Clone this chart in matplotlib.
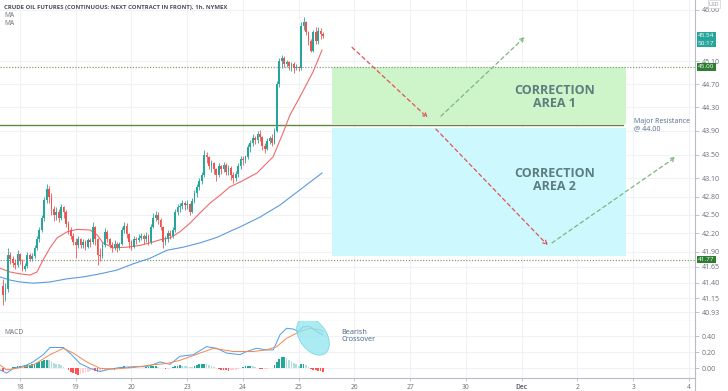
import matplotlib
matplotlib.use("Agg")
import matplotlib.pyplot as plt
import matplotlib.transforms as mtransforms
from matplotlib.patches import Ellipse, Rectangle
from matplotlib.ticker import FixedLocator, NullLocator, FixedFormatter, NullFormatter
import numpy as np

plt.rcParams['font.family'] = ['Open Sans', 'DejaVu Sans']

# ---------------- data ----------------
title = "CRUDE OIL FUTURES (CONTINUOUS: NEXT CONTRACT IN FRONT), 1h, NYMEX"
first_open = 41.35
closes = [41.20, 41.30, 41.85, 41.78, 41.72, 41.68, 41.86, 41.75, 41.62, 41.66,
          41.85, 41.78, 41.82, 41.95, 42.10, 42.25, 42.45, 42.75, 42.92, 42.80,
          42.60, 42.50, 42.55, 42.45, 42.62, 42.55, 42.35, 42.25, 42.15, 42.05,
          42.00, 42.10, 42.00, 42.05, 41.98, 42.08, 42.05, 42.30, 42.10, 41.85,
          41.82, 42.00, 42.22, 42.10, 42.00, 41.95, 42.02, 41.96, 42.02, 42.25,
          42.32, 42.18, 42.05, 41.98, 42.10, 42.08, 42.12, 42.15, 42.10, 42.15,
          42.05, 42.30, 42.45, 42.50, 42.42, 42.30, 42.05, 42.10, 42.20, 42.15,
          42.25, 42.55, 42.62, 42.65, 42.70, 42.66, 42.68, 42.55, 42.72, 42.85,
          42.95, 43.05, 43.15, 43.50, 43.45, 43.30, 43.35, 43.25, 43.15, 43.30,
          43.25, 43.32, 43.20, 43.28, 43.15, 43.10, 43.18, 43.30, 43.42, 43.40,
          43.45, 43.62, 43.70, 43.78, 43.75, 43.85, 43.80, 43.65, 43.60, 43.72,
          43.78, 43.70, 43.90, 44.70, 45.10, 45.15, 45.05, 45.08, 45.02, 45.05,
          44.98, 45.00, 44.98, 45.72, 45.78, 45.60, 45.45, 45.28, 45.60, 45.45,
          45.62, 45.58, 45.54]
highs = [41.45, 41.40, 41.95, 41.90, 41.82, 41.78, 41.92, 41.88, 41.78, 41.72,
         41.90, 41.87, 41.88, 42.00, 42.15, 42.30, 42.50, 42.80, 43.00, 42.98,
         42.85, 42.65, 42.62, 42.60, 42.68, 42.65, 42.58, 42.40, 42.30, 42.20,
         42.12, 42.15, 42.12, 42.10, 42.08, 42.12, 42.12, 42.38, 42.32, 42.12,
         41.95, 42.05, 42.28, 42.25, 42.12, 42.05, 42.08, 42.05, 42.06, 42.30,
         42.38, 42.36, 42.20, 42.08, 42.15, 42.14, 42.18, 42.20, 42.18, 42.22,
         42.18, 42.35, 42.52, 42.56, 42.55, 42.45, 42.32, 42.15, 42.25, 42.25,
         42.30, 42.60, 42.68, 42.70, 42.75, 42.72, 42.74, 42.70, 42.78, 42.90,
         43.00, 43.10, 43.20, 43.58, 43.55, 43.48, 43.40, 43.38, 43.28, 43.35,
         43.32, 43.38, 43.35, 43.33, 43.30, 43.20, 43.22, 43.35, 43.48, 43.48,
         43.50, 43.68, 43.75, 43.85, 43.82, 43.90, 43.92, 43.82, 43.70, 43.78,
         43.82, 43.85, 43.95, 44.75, 45.15, 45.20, 45.18, 45.12, 45.10, 45.08,
         45.08, 45.05, 45.02, 45.78, 45.88, 45.80, 45.62, 45.48, 45.65, 45.70,
         45.70, 45.68, 45.60]
lows = [41.05, 41.10, 41.25, 41.70, 41.65, 41.62, 41.65, 41.70, 41.58, 41.58,
        41.63, 41.74, 41.75, 41.80, 41.92, 42.05, 42.22, 42.40, 42.70, 42.70,
        42.50, 42.40, 42.42, 42.38, 42.42, 42.45, 42.30, 42.18, 42.10, 42.00,
        41.80, 41.95, 41.95, 41.96, 41.92, 41.95, 41.98, 42.02, 42.00, 41.68,
        41.75, 41.80, 41.98, 42.05, 41.95, 41.90, 41.92, 41.90, 41.92, 42.00,
        42.20, 42.12, 41.95, 41.92, 41.95, 42.02, 42.05, 42.08, 42.02, 42.05,
        42.00, 42.02, 42.28, 42.40, 42.35, 42.25, 41.95, 42.00, 42.05, 42.10,
        42.12, 42.22, 42.50, 42.55, 42.60, 42.58, 42.60, 42.50, 42.52, 42.70,
        42.80, 42.90, 43.00, 43.12, 43.35, 43.25, 43.20, 43.18, 43.05, 43.12,
        43.18, 43.20, 43.15, 43.15, 43.08, 43.02, 43.05, 43.12, 43.25, 43.32,
        43.35, 43.42, 43.55, 43.65, 43.68, 43.70, 43.72, 43.58, 43.52, 43.58,
        43.68, 43.65, 43.68, 43.88, 44.65, 44.98, 45.00, 45.00, 44.95, 44.92,
        44.90, 44.95, 44.92, 44.95, 45.65, 45.55, 45.38, 45.25, 45.25, 45.40,
        45.40, 45.48, 45.50]

# moving averages, read at sample bars
ma_fast_x = [-1.2, 2.9, 7.0, 11.1, 14.0, 16.5, 19.4, 22.3, 26.4, 30.5, 35.9, 38.8,
             41.3, 45.4, 51.2, 56.5, 60.6, 64.8, 68.9, 73.0, 77.1, 81.3, 85.4,
             89.5, 93.6, 97.8, 104.8, 111.4, 115.5, 118.4, 122.5, 127.9, 131.6]
ma_fast_y = [41.63, 41.57, 41.54, 41.52, 41.57, 41.76, 41.96, 42.12, 42.22, 42.26,
             42.25, 42.17, 42.04, 41.96, 41.97, 42.00, 42.04, 42.09, 42.12, 42.22,
             42.36, 42.53, 42.69, 42.82, 42.96, 43.04, 43.19, 43.46, 43.86, 44.17,
             44.48, 44.91, 45.29]
ma_slow_x = [-1.2, 2.9, 7.0, 12.4, 19.4, 26.4, 33.0, 40.0, 47.0, 53.6, 60.6, 67.6,
             74.3, 81.3, 88.3, 94.9, 97.8, 106.0, 114.3, 122.5, 131.6]
ma_slow_y = [41.49, 41.44, 41.41, 41.39, 41.41, 41.46, 41.49, 41.54, 41.60, 41.70,
             41.79, 41.92, 41.97, 42.04, 42.13, 42.25, 42.30, 42.46, 42.66, 42.91,
             43.19]

# MACD panel
macd_x = [-1.2, 1.5, 4.3, 9.8, 12.4, 16.6, 19.4, 24.9, 28.3, 31.8, 35.9, 40.0,
          44.1, 48.3, 53.8, 59.3, 64.8, 68.9, 73.0, 78.5, 84.0, 88.2, 92.3, 97.8,
          100.5, 104.6, 108.7, 111.5, 114.3, 117.0, 119.8, 121.8, 123.9, 126.7,
          129.4, 132.0]
macd_y = [-0.02, -0.06, 0.00, 0.04, 0.08, 0.17, 0.26, 0.26, 0.17, 0.06, 0.00, -0.04,
          -0.01, 0.01, 0.02, 0.02, 0.08, 0.05, 0.15, 0.17, 0.27, 0.25, 0.19, 0.17,
          0.21, 0.25, 0.23, 0.23, 0.42, 0.50, 0.49, 0.46, 0.52, 0.52, 0.46, 0.42]
signal_x = [-1.2, 1.5, 5.6, 12.4, 19.4, 24.9, 29.0, 34.5, 40.0, 45.5, 53.8, 60.6,
            67.5, 73.0, 81.3, 86.8, 95.0, 103.3, 108.7, 112.9, 117.0, 122.5, 126.7,
            130.8, 132.0]
signal_y = [0.04, -0.02, 0.00, 0.04, 0.17, 0.25, 0.19, 0.08, 0.00, -0.01, 0.01, 0.04,
            0.06, 0.10, 0.19, 0.25, 0.21, 0.21, 0.23, 0.27, 0.375, 0.46, 0.50, 0.48,
            0.46]
hist = [-0.03, -0.02, -0.01, 0.01, 0.02, 0.02, 0.03, 0.03, 0.02, 0.03,
        0.04, 0.04, 0.05, 0.06, 0.07, 0.08, 0.09, 0.10, 0.11, 0.10,
        0.09, 0.07, 0.06, 0.05, 0.04, 0.02, 0.01, -0.02, -0.04, -0.06,
        -0.07, -0.08, -0.07, -0.06, -0.05, -0.04, -0.03, -0.02, -0.03, -0.04,
        -0.035, -0.03, -0.02, -0.015, -0.01, -0.01, -0.015, -0.01, 0.01, 0.02,
        0.03, 0.02, 0.02, 0.015, 0.015, 0.01, 0.01, 0.01, 0.01, 0.015,
        0.02, 0.025, 0.03, 0.03, 0.02, 0.01, 0.005, -0.01, -0.005, 0.01,
        0.02, 0.03, 0.035, 0.04, 0.035, 0.03, 0.025, 0.02, 0.015, 0.03,
        0.04, 0.05, 0.055, 0.06, 0.05, 0.04, 0.03, 0.02, 0.01, -0.01,
        -0.015, -0.02, -0.025, -0.03, -0.025, -0.02, -0.015, -0.01, 0.01, 0.02,
        0.025, 0.03, 0.035, 0.03, 0.02, 0.01, -0.005, -0.01, -0.005, -0.005,
        0.005, 0.01, 0.04, 0.08, 0.12, 0.14, 0.145, 0.13, 0.11, 0.09,
        0.07, 0.05, 0.03, 0.05, 0.06, 0.04, 0.02, -0.01, -0.02, -0.025,
        -0.03, -0.035, -0.04]

price_ticks = [46.00, 45.10, 44.70, 44.30, 43.90, 43.50, 43.10, 42.80, 42.50,
               42.20, 41.90, 41.65, 41.40, 41.15, 40.93]
macd_ticks = [0.40, 0.20, 0.00]
day_labels = ['18', '19', '20', '23', '24', '25', '26', '27', '30', 'Dec', '2', '3', '4']
day_start_bar = 7
bars_per_day = 23

level_high = 45.00
level_low = 41.77
resistance = 44.00
last_price = 45.54
countdown = "50:17"
zone_bars = (135.7, 257.0)
zone1 = (44.02, 45.00)
zone2 = (41.83, 43.94)
resistance_end_bar = 255.8
arrows_red = [((144.0, 45.34), (175.3, 44.12)), ((178.6, 43.93), (224.8, 42.00))]
arrows_green = [((180.7, 44.15), (215.3, 45.52)), ((226.5, 42.04), (277.6, 43.46))]

# ---------------- figure ----------------
W, H = 728, 391
fig = plt.figure(figsize=(W / 100, H / 100), dpi=100)
fig.patch.set_facecolor('white')
ax = fig.add_axes([0, 1 - 321 / H, 695 / W, 321 / H])
axm = fig.add_axes([0, 1 - 378 / H, 695 / W, 57 / H])

xlim = (-1.24, 285.5)
grid_c = '#f0f2f6'
axis_c = '#b8bbc4'
tick_c = '#6a6d78'

day_pos = [day_start_bar + bars_per_day * k for k in range(len(day_labels))]

for a in (ax, axm):
    a.set_xlim(*xlim)
    a.set_facecolor('white')
    for s in ('top', 'left'):
        a.spines[s].set_visible(False)
    a.spines['right'].set_color(axis_c)
    a.spines['bottom'].set_color(axis_c)
    a.spines['right'].set_linewidth(0.8)
    a.spines['bottom'].set_linewidth(0.8)
    a.yaxis.tick_right()
    a.tick_params(axis='y', direction='out', length=3, width=0.6, colors=axis_c,
                  labelcolor=tick_c, labelsize=5, pad=2)
    a.set_xticks(day_pos)
    for xp in day_pos:
        a.axvline(xp, color=grid_c, lw=0.8, zorder=0)

# main price axis
ax.set_yscale('log')
ax.set_ylim(40.79, 46.176)
ax.yaxis.set_major_locator(FixedLocator(price_ticks))
ax.yaxis.set_major_formatter(FixedFormatter(['%.2f' % t for t in price_ticks]))
ax.yaxis.set_minor_locator(NullLocator())
ax.yaxis.set_minor_formatter(NullFormatter())
for t in price_ticks:
    ax.axhline(t, color=grid_c, lw=0.8, zorder=0)
ax.tick_params(axis='x', length=0, labelbottom=False)

# zones
ax.add_patch(Rectangle((zone_bars[0], zone1[0]), zone_bars[1] - zone_bars[0],
                       zone1[1] - zone1[0], facecolor='#cdf5c9', edgecolor='none', zorder=0.5))
ax.add_patch(Rectangle((zone_bars[0], zone2[0]), zone_bars[1] - zone_bars[0],
                       zone2[1] - zone2[0], facecolor='#cdf8fd', edgecolor='none', zorder=0.5))

# horizontal levels
ax.axhline(level_high, color='#8a9c7c', lw=0.9, ls=(0, (1, 1.3)), zorder=1)
ax.axhline(level_low, color='#8a9c7c', lw=0.9, ls=(0, (1, 1.3)), zorder=1)
ax.plot([xlim[0], resistance_end_bar], [resistance, resistance], color='#5f8a3e',
        lw=1.0, zorder=1.5)

# candles
idx = np.arange(len(closes))
c = np.array(closes)
o = np.array([first_open] + closes[:-1])
hi = np.maximum(np.array(highs), np.maximum(o, c))
lo = np.minimum(np.array(lows), np.minimum(o, c))
up_c, dn_c = '#26a69a', '#ef5350'
cols = [up_c if cc >= oo else dn_c for oo, cc in zip(o, c)]
ax.vlines(idx, lo, hi, colors=cols, lw=0.6, zorder=3)
ax.bar(idx, np.maximum(np.abs(c - o), 0.006), bottom=np.minimum(o, c), width=0.72,
       color=cols, linewidth=0, zorder=3)

# moving averages
ax.plot(ma_fast_x, ma_fast_y, color='#ef6b6b', lw=0.8, zorder=2.5)
ax.plot(ma_slow_x, ma_slow_y, color='#5b9bdf', lw=0.8, zorder=2.5)

# arrows
for (s, e) in arrows_red:
    ax.annotate('', xy=e, xytext=s,
                arrowprops=dict(arrowstyle='->', color='#e05555', lw=0.9,
                                ls=(0, (3, 2.5)), shrinkA=0, shrinkB=0,
                                mutation_scale=7), zorder=4)
for (s, e) in arrows_green:
    ax.annotate('', xy=e, xytext=s,
                arrowprops=dict(arrowstyle='->', color='#80b47e', lw=0.9,
                                ls=(0, (3, 2.5)), shrinkA=0, shrinkB=0,
                                mutation_scale=7), zorder=4)

# zone texts
zc = '#5d7d80'
xmid = 227.5
ax.text(xmid, 44.485, "CORRECTION\nAREA 1", ha='center', va='center', fontsize=9,
        fontweight='bold', color=zc, linespacing=1.0, zorder=5)
ax.text(xmid, 43.08, "CORRECTION\nAREA 2", ha='center', va='center', fontsize=9,
        fontweight='bold', color=zc, linespacing=1.0, zorder=5)
ax.text(260.3, resistance, "Major Resistance\n@ 44.00", ha='left', va='center',
        fontsize=5, color='#50688a', linespacing=0.95, zorder=5)


def price_label(a, y, txt, fc, dy=0):
    a.annotate(txt, xy=(1, y), xycoords=a.get_yaxis_transform(), xytext=(2.2, dy),
               textcoords='offset points', ha='left', va='center', fontsize=4.6,
               color='white', annotation_clip=False, zorder=10,
               bbox=dict(boxstyle='square,pad=0.2', fc=fc, ec='none'))


price_label(ax, last_price, '%.2f' % last_price, '#26a69a')
price_label(ax, last_price, countdown, '#26a69a', dy=-5.4)
price_label(ax, level_high, '%.2f' % level_high, '#2e7d32')
price_label(ax, level_low, '%.2f' % level_low, '#2e7d32')

# MACD panel
axm.set_ylim(-0.121, 0.591)
axm.yaxis.set_major_locator(FixedLocator(macd_ticks))
axm.yaxis.set_major_formatter(FixedFormatter(['%.2f' % t for t in macd_ticks]))
for t in macd_ticks:
    axm.axhline(t, color=grid_c, lw=0.8, zorder=0)
h = np.array(hist)
hcols = []
prev = 0.0
for v in h:
    if v >= 0:
        hcols.append('#26a69a' if v >= prev else '#b2dfdb')
    else:
        hcols.append('#ff5252' if v < prev else '#ffcdd2')
    prev = v
axm.bar(idx, h, width=0.72, color=hcols, linewidth=0, zorder=2)
axm.plot(macd_x, macd_y, color='#4a9fe8', lw=0.7, zorder=3)
axm.plot(signal_x, signal_y, color='#f5874f', lw=0.7, zorder=3)

trans = fig.dpi_scale_trans + mtransforms.ScaledTranslation(127.9, 0.40, axm.transData)
ell = Ellipse((0, 0), 0.42, 0.27, angle=-55, transform=trans, facecolor='#8fe6f0',
              edgecolor='#62cfe0', lw=0.6, alpha=0.75, zorder=4)
axm.add_patch(ell)
axm.set_xlim(*xlim)
axm.set_ylim(-0.121, 0.591)
axm.text(139.5, 0.40, "Bearish\nCrossover", ha='left', va='center', fontsize=5.2,
         color='#45607e', linespacing=0.95, zorder=5)

axm.set_xticklabels(day_labels)
axm.tick_params(axis='x', direction='out', length=2, width=0.6, colors=axis_c,
                labelcolor=tick_c, labelsize=4.8, pad=2)
for lbl in axm.get_xticklabels():
    if lbl.get_text() == 'Dec':
        lbl.set_fontweight('bold')

# header texts
fig.text(4 / W, 1 - 7 / H, title, fontsize=4.3, fontweight='bold', color='#4a4d57',
         va='center', ha='left')
fig.text(4 / W, 1 - 15.5 / H, "MA", fontsize=4.8, color='#6a6d78', va='center')
fig.text(4 / W, 1 - 23.5 / H, "MA", fontsize=4.8, color='#6a6d78', va='center')
axm.text(0.006, 0.8, "MACD", transform=axm.transAxes, fontsize=4.8, color='#6a6d78',
         va='center', ha='left')
fig.text(714 / W, 1 - 4 / H, "USD", fontsize=3.8, color='#8a8d98', va='center',
         ha='center', bbox=dict(boxstyle='square,pad=0.2', fc='white', ec='#d0d3da', lw=0.5),
         zorder=20)

# axis line through time scale area
fig.add_artist(plt.Line2D([695 / W, 695 / W], [0, 1 - 378 / H], color=axis_c, lw=0.8,
                          transform=fig.transFigure))

fig.savefig('out.png', dpi=100, facecolor='white')
